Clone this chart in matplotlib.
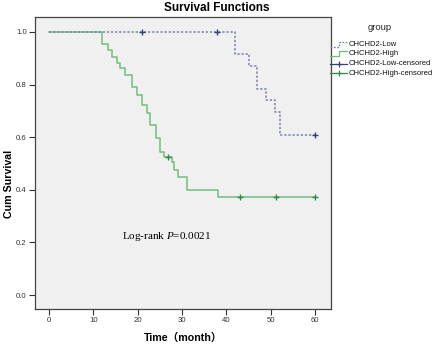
import matplotlib
matplotlib.use("Agg")
import matplotlib.pyplot as plt
from matplotlib.lines import Line2D

plt.rcParams['font.family'] = ['Liberation Sans', 'Noto Sans CJK SC', 'DejaVu Sans']
plt.rcParams['mathtext.fontset'] = 'custom'
plt.rcParams['mathtext.it'] = 'Liberation Serif:italic'
plt.rcParams['mathtext.rm'] = 'Liberation Serif'

# ---- data ----
low_times = [0, 42, 45, 47, 49, 51, 52, 60]
low_surv = [1.0, 0.917, 0.871, 0.783, 0.741, 0.697, 0.608, 0.608]
low_cens_t = [21, 38, 60]
low_cens_s = [1.0, 1.0, 0.608]

high_times = [0, 12.0, 13.2, 14.3, 15.4, 16.0, 17.2, 18.8, 19.8, 20.9, 22.0, 22.8,
              24.2, 25.1, 26.0, 27.7, 28.3, 29.2, 31.1, 38.2, 60]
high_surv = [1.0, 0.953, 0.932, 0.906, 0.881, 0.862, 0.837, 0.792, 0.760, 0.722, 0.691, 0.646,
             0.596, 0.545, 0.526, 0.507, 0.475, 0.450, 0.399, 0.374, 0.374]
high_cens_t = [26.9, 43.1, 51.2, 60]
high_cens_s = [0.526, 0.374, 0.374, 0.374]

x_ticks = [0, 10, 20, 30, 40, 50, 60]
y_ticks = [0.0, 0.2, 0.4, 0.6, 0.8, 1.0]
legend_labels = ["CHCHD2-Low", "CHCHD2-High", "CHCHD2-Low-censored", "CHCHD2-High-censored"]

low_line_c = '#7c86a6'
low_mark_c = '#34407a'
high_line_c = '#6fbf7e'
high_mark_c = '#2f8a47'
low_ls = (0, (1.5, 1.2))

W, H = 434, 347
fig = plt.figure(figsize=(W/100, H/100), dpi=100)
ax = fig.add_axes([35/W, 1-309/H, (331-35)/W, (309-17)/H])
ax.set_facecolor('#f0f0f0')

ax.step(high_times, high_surv, where='post', color=high_line_c, lw=1.1, zorder=2)
ax.step(low_times, low_surv, where='post', color=low_line_c, lw=1.1,
        linestyle=low_ls, zorder=3)
ax.plot(high_cens_t, high_cens_s, linestyle='none', marker='+', ms=5, mew=1.0,
        color=high_mark_c, zorder=4)
ax.plot(low_cens_t, low_cens_s, linestyle='none', marker='+', ms=5, mew=1.0,
        color=low_mark_c, zorder=4)

ax.set_xlim(-3.16, 63.6)
ax.set_ylim(-0.053, 1.057)
ax.set_xticks(x_ticks)
ax.set_yticks(y_ticks)
ax.set_yticklabels([f"{v:.1f}" for v in y_ticks])
ax.tick_params(axis='both', labelsize=5.6, colors='#333333', length=4, width=0.8, pad=2)
for s in ax.spines.values():
    s.set_color('#444444')
    s.set_linewidth(0.9)

ax.set_xlabel("Time（month）", fontsize=7.7, fontweight='bold', labelpad=6)
ax.set_ylabel("Cum Survival", fontsize=7.7, fontweight='bold')
ax.yaxis.set_label_coords(-0.07, 0.43)
fig.text(217/W, 1-8/H, "Survival Functions", ha='center', va='center',
         fontsize=8.5, fontweight='bold')

ax.text(16.4, 0.222, "Log-rank $\\mathit{P}$=0.0021", fontsize=8,
        family='Liberation Serif', va='center', ha='left')

# ---- manual legend (figure pixel coordinates) ----
def fx(px):
    return px / W

def fy(py):
    return 1 - py / H

fig.text(fx(380), fy(27), "group", ha='center', va='center', fontsize=6.8, color='#222222')
entry_y = [44, 53.5, 63.5, 73.3]
hx0, hx1, tx = 330, 347, 349
# step-shaped handles
for i, (col, ls) in enumerate([(low_line_c, low_ls), (high_line_c, '-')]):
    y = entry_y[i]
    xs = [fx(hx0), fx(hx0 + 9), fx(hx0 + 9), fx(hx1)]
    ys = [fy(y + 2.5), fy(y + 2.5), fy(y - 2.5), fy(y - 2.5)]
    fig.add_artist(Line2D(xs, ys, color=col, lw=0.9, linestyle=ls, transform=fig.transFigure))
for i, col in [(2, low_mark_c), (3, high_mark_c)]:
    y = entry_y[i]
    fig.add_artist(Line2D([fx(hx0), fx(hx1)], [fy(y), fy(y)], color=col, lw=0.9,
                          transform=fig.transFigure))
    fig.add_artist(Line2D([fx((hx0 + hx1) / 2)], [fy(y)], color=col, marker='+', ms=5,
                          mew=0.9, linestyle='none', transform=fig.transFigure))
for y, lab in zip(entry_y, legend_labels):
    fig.text(fx(tx), fy(y), lab, ha='left', va='center', fontsize=5.5, color='#111111')

fig.savefig("out.png", dpi=100, facecolor='white')
